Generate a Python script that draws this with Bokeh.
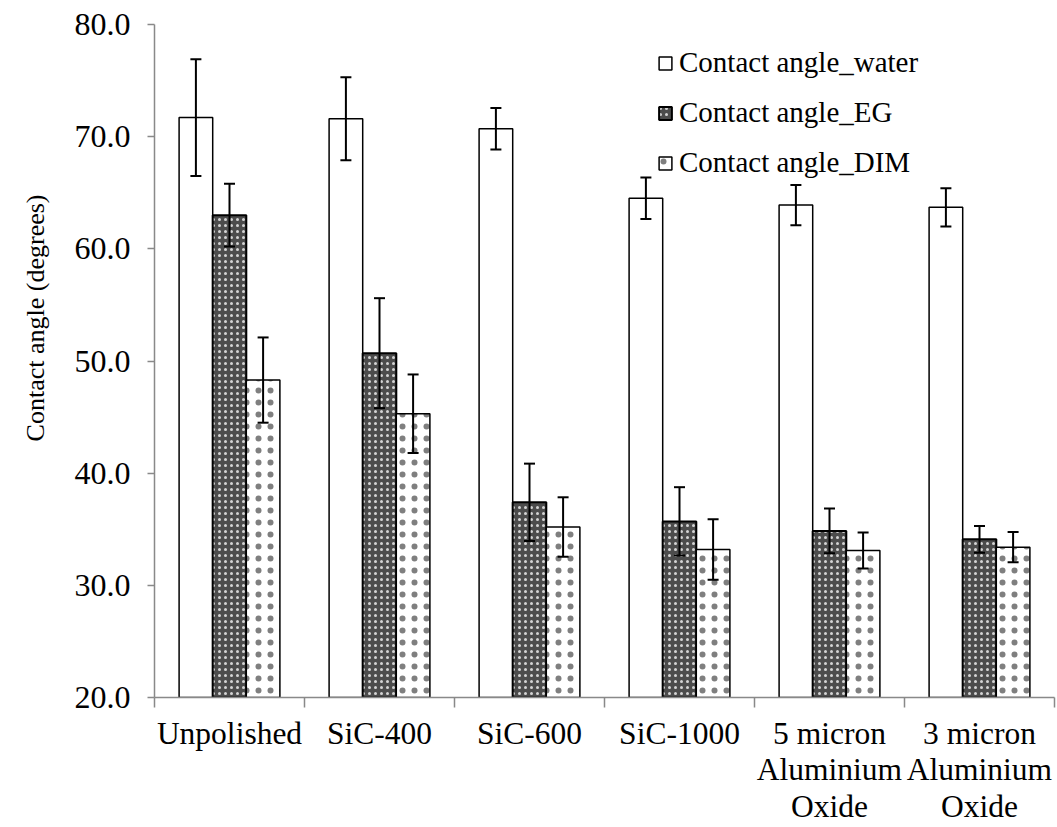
import math
from bokeh.plotting import figure
from bokeh.models import (ColumnDataSource, Whisker, TeeHead, FixedTicker, Range1d,
                          Legend, LegendItem, PrintfTickFormatter, Title)
from bokeh.transform import dodge
from bokeh.embed import file_html
from bokeh.resources import INLINE

# ---------------- data ----------------
categories = ["Unpolished", "SiC-400", "SiC-600", "SiC-1000",
              "5 micron\nAluminium\nOxide", "3 micron\nAluminium\nOxide"]
series_names = ["Contact angle_water", "Contact angle_EG", "Contact angle_DIM"]
water = [71.7, 71.6, 70.7, 64.5, 63.9, 63.7]
water_err = [5.2, 3.7, 1.85, 1.85, 1.8, 1.7]
eg = [63.0, 50.7, 37.4, 35.7, 34.85, 34.1]
eg_err = [2.8, 4.9, 3.45, 3.05, 2.0, 1.2]
dim = [48.3, 45.3, 35.2, 33.2, 33.1, 33.4]
dim_err = [3.8, 3.5, 2.65, 2.7, 1.6, 1.35]
y_ticks = [20, 30, 40, 50, 60, 70, 80]
y_title = "Contact angle (degrees)"

FONT = "Liberation Serif"

n = len(categories)
xc = [i + 0.5 for i in range(n)]
src = ColumnDataSource(dict(
    x=xc, water=water, eg=eg, dim=dim,
    water_up=[v + e for v, e in zip(water, water_err)],
    water_lo=[v - e for v, e in zip(water, water_err)],
    eg_up=[v + e for v, e in zip(eg, eg_err)],
    eg_lo=[v - e for v, e in zip(eg, eg_err)],
    dim_up=[v + e for v, e in zip(dim, dim_err)],
    dim_lo=[v - e for v, e in zip(dim, dim_err)],
))

p = figure(width=1056, height=827, x_range=Range1d(0, n), y_range=Range1d(20, 80),
           output_backend="svg", toolbar_location=None,
           min_border_left=153, min_border_top=24, min_border_right=2, min_border_bottom=129)
p.xgrid.visible = False
p.ygrid.visible = False
p.outline_line_color = None
p.background_fill_color = "white"

bw = 0.224
r_w = p.vbar(x=dodge("x", -bw), top="water", bottom=20, width=bw, source=src,
             fill_color="white", line_color="black", line_width=1.5)
r_e = p.vbar(x=dodge("x", 0), top="eg", bottom=20, width=bw, source=src,
             fill_color="#4c4c4c", line_color="black", line_width=2,
             hatch_pattern="dot", hatch_color="#d4d4d4", hatch_scale=6, hatch_weight=0.3)
r_d = p.vbar(x=dodge("x", bw), top="dim", bottom=20, width=bw, source=src,
             fill_color="white", line_color="black", line_width=1.5,
             hatch_pattern="dot", hatch_color="black", hatch_alpha=0.5,
             hatch_scale=12, hatch_weight=0.2)

for off, key in ((-bw, "water"), (0, "eg"), (bw, "dim")):
    w = Whisker(base=dodge("x", off), upper=key + "_up", lower=key + "_lo", source=src,
                line_color="black", line_width=2, level="overlay",
                upper_head=TeeHead(size=11, line_width=2, line_color="black"),
                lower_head=TeeHead(size=11, line_width=2, line_color="black"))
    p.add_layout(w)

legend = Legend(items=[LegendItem(label=series_names[0], renderers=[r_w]),
                       LegendItem(label=series_names[1], renderers=[r_e]),
                       LegendItem(label=series_names[2], renderers=[r_d])],
                location=(503, 514), glyph_width=16, glyph_height=16, label_standoff=6,
                label_text_font=FONT, label_text_font_size="29px", label_text_color="black",
                label_height=41, spacing=9, padding=0, margin=0, border_line_color=None,
                background_fill_alpha=0)
p.add_layout(legend)

# y axis
ya = p.yaxis[0]
ya.ticker = FixedTicker(ticks=y_ticks)
ya.formatter = PrintfTickFormatter(format="%.1f")
ya.major_label_text_font = FONT
ya.major_label_text_font_size = "32px"
ya.major_label_text_color = "black"
ya.major_tick_out = 7
ya.major_tick_in = 0
ya.minor_tick_out = 0
ya.minor_tick_in = 0
ya.axis_line_color = "#898989"
ya.axis_line_width = 1.5
ya.major_tick_line_color = "#898989"
ya.major_tick_line_width = 1.5
ya.major_label_standoff = 17

# x axis
xa = p.xaxis[0]
xa.ticker = FixedTicker(ticks=xc, minor_ticks=list(range(n + 1)))
xa.major_label_overrides = {x: c for x, c in zip(xc, categories)}
xa.major_label_text_font = FONT
xa.major_label_text_font_size = "31.5px"
xa.major_label_text_color = "black"
xa.major_label_text_line_height = 1.05
xa.major_tick_out = 0
xa.major_tick_in = 0
xa.minor_tick_out = 10
xa.minor_tick_in = 0
xa.minor_tick_line_color = "#898989"
xa.minor_tick_line_width = 1.5
xa.axis_line_color = "#898989"
xa.axis_line_width = 1.5
xa.major_label_standoff = 8

p.add_layout(Title(text=y_title, align="right", offset=170, vertical_align="top", standoff=40,
                   text_font=FONT, text_font_size="26px", text_font_style="normal",
                   text_color="black"), "left")

open("out.html", "w").write(file_html(p, INLINE))
